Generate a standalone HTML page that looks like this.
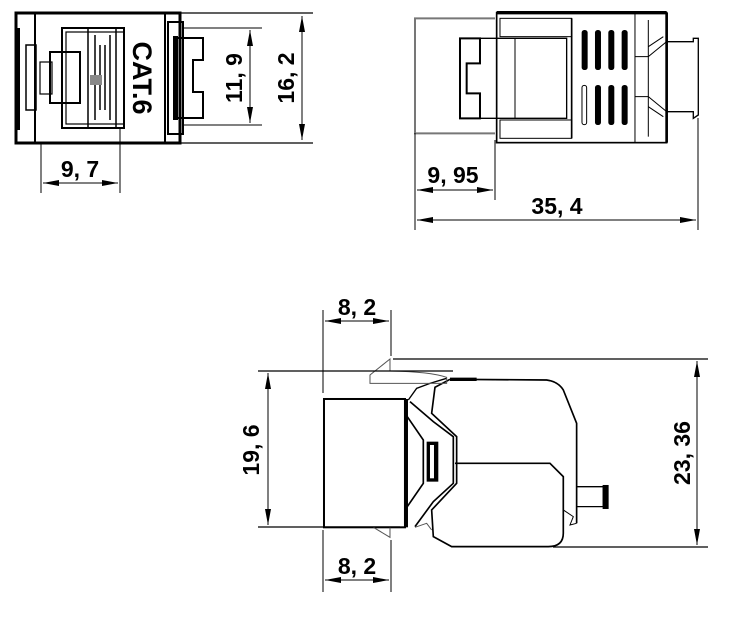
<!DOCTYPE html>
<html><head><meta charset="utf-8"><style>
html,body{margin:0;padding:0;background:#fff;}
svg{display:block;}
text{font-family:"Liberation Sans",sans-serif;font-weight:bold;fill:#000;}
</style></head><body>
<svg width="732" height="620" viewBox="0 0 732 620" xmlns="http://www.w3.org/2000/svg">
<defs>
<marker id="a" viewBox="0 0 16 6" refX="16" refY="3" markerWidth="16" markerHeight="6" markerUnits="userSpaceOnUse" orient="auto-start-reverse">
<path d="M0,0 L16,3 L0,6 Z" fill="#000"/></marker>
</defs>
<g fill="none" stroke="#000">
<!-- FRONT VIEW -->
<rect x="16" y="13" width="164" height="130" stroke-width="3"/>
<rect x="15" y="28" width="5" height="102" fill="#000" stroke="none"/>
<line x1="35" y1="14" x2="35" y2="142" stroke-width="2"/>
<rect x="26" y="45" width="10" height="65" stroke-width="1.5"/>
<rect x="62" y="28" width="62" height="100" stroke-width="2"/>
<rect x="66" y="32" width="58" height="92" stroke-width="1.2"/>
<rect x="50" y="52" width="30" height="51" stroke-width="2"/>
<rect x="40" y="62" width="12" height="32" stroke-width="1.2"/>
<g stroke-width="1.5">
<line x1="88" y1="28" x2="88" y2="128"/><line x1="95" y1="35" x2="95" y2="120"/>
<line x1="100" y1="45" x2="100" y2="110"/><line x1="105" y1="45" x2="105" y2="110"/>
<line x1="110" y1="35" x2="110" y2="120"/><line x1="116" y1="28" x2="116" y2="128"/>
</g>
<rect x="90" y="75" width="12" height="10" fill="#888" stroke="none"/>
<line x1="165" y1="14" x2="165" y2="142" stroke-width="2"/>
<rect x="168" y="22" width="15" height="112" stroke-width="2"/>
<rect x="173" y="36" width="5" height="84" fill="#000" stroke="none"/>
<path d="M177,38 L203,38 L203,60 L193,60 L193,92 L203,92 L203,118 L177,118" stroke-width="2"/>
<!-- front dims -->
<line x1="180" y1="13" x2="313" y2="13" stroke-width="1.2"/>
<line x1="180" y1="143" x2="313" y2="143" stroke-width="1.2"/>
<line x1="183" y1="28" x2="262" y2="28" stroke-width="1"/>
<line x1="183" y1="125" x2="262" y2="125" stroke-width="1"/>
<line x1="302" y1="16" x2="302" y2="140" stroke-width="1" marker-start="url(#a)" marker-end="url(#a)"/>
<line x1="250" y1="30" x2="250" y2="123" stroke-width="1" marker-start="url(#a)" marker-end="url(#a)"/>
<line x1="41" y1="143" x2="41" y2="193" stroke-width="1"/>
<line x1="120" y1="128" x2="120" y2="193" stroke-width="1"/>
<line x1="43" y1="183" x2="118" y2="183" stroke-width="1" marker-start="url(#a)" marker-end="url(#a)"/>

<!-- SIDE VIEW -->
<g transform="translate(400,0) scale(0.3333)" stroke-width="4">
<path d="M285,55 L45,55 L45,400 L285,400" stroke="#777" stroke-width="6"/>
<rect x="290" y="38" width="510" height="390" stroke-width="5"/>
<line x1="290" y1="38" x2="800" y2="38" stroke-width="10"/>
<line x1="800" y1="38" x2="800" y2="428" stroke-width="8"/>
<path d="M180,115 L500,115 L500,355 L180,355 Z" stroke-width="4"/>
<path d="M180,115 L240,115 L240,190 L200,190 L200,280 L240,280 L240,355 L180,355 Z" stroke-width="6"/>
<line x1="345" y1="115" x2="345" y2="355" stroke-width="3"/>
<rect x="300" y="55" width="215" height="55" stroke-width="3"/>
<rect x="300" y="360" width="215" height="55" stroke-width="3"/>
<line x1="515" y1="55" x2="515" y2="415" stroke-width="5"/>
<line x1="705" y1="38" x2="705" y2="428" stroke-width="3"/>
<line x1="745" y1="60" x2="745" y2="410" stroke-width="3"/>
<path d="M705,170 L745,170 L800,125 M705,290 L745,290 L800,335 M745,140 L790,110 M745,320 L790,350" stroke-width="3"/>
<g fill="#000" stroke="none">
<rect x="545" y="90" width="18" height="120" rx="8"/><rect x="585" y="90" width="18" height="120" rx="8"/>
<rect x="625" y="90" width="18" height="120" rx="8"/><rect x="665" y="90" width="18" height="120" rx="8"/>
<rect x="585" y="255" width="18" height="120" rx="8"/>
<rect x="625" y="255" width="18" height="120" rx="8"/><rect x="665" y="255" width="18" height="120" rx="8"/>
</g>
<rect x="546" y="256" width="14" height="118" rx="7" stroke-width="3"/>
<path d="M800,125 L880,125 L880,115 L895,115 L895,345 L880,355 L880,335 L800,335" stroke-width="4"/>
</g>
<line x1="415" y1="133" x2="415" y2="230" stroke-width="1"/>
<line x1="495" y1="140" x2="495" y2="200" stroke-width="1"/>
<line x1="698" y1="118" x2="698" y2="230" stroke-width="1"/>
<line x1="417" y1="190" x2="493" y2="190" stroke-width="1" marker-start="url(#a)" marker-end="url(#a)"/>
<line x1="417" y1="220" x2="696" y2="220" stroke-width="1" marker-start="url(#a)" marker-end="url(#a)"/>

<!-- BOTTOM VIEW -->
<g transform="translate(230,290) scale(0.3333)" stroke-width="4">
<rect x="282" y="327" width="243" height="385" stroke-width="6"/>
<rect x="522" y="327" width="12" height="385" fill="#000" stroke="none"/>
<path d="M525,370 L580,450 L580,580 L525,660" stroke-width="5"/>
<path d="M535,330 L560,295 L600,280 L650,265" stroke-width="4"/>
<path d="M540,335 L610,395 L670,440 L670,580 L610,635 L555,710" stroke-width="5"/>
<rect x="590" y="455" width="35" height="120" fill="#000" stroke="none"/>
<rect x="600" y="465" width="12" height="100" fill="#fff" stroke="none"/>
<path d="M660,268 L615,292 L605,370 L680,440 L680,580 L605,660 L610,740 L665,770 L955,770 Q1000,770 1000,730 L1000,560 L960,520 L675,520" stroke-width="5"/>
<path d="M660,268 L950,270 Q985,275 1000,300 L1040,400 L1040,700" stroke-width="5"/>
<line x1="660" y1="268" x2="740" y2="268" stroke-width="10"/>
<path d="M1040,590 L1120,590 L1120,650 L1040,650" stroke-width="4"/>
<rect x="1118" y="585" width="18" height="72" fill="#000" stroke="none"/>
<path d="M1000,660 L1030,680 L1020,705 L1040,700" stroke-width="3"/>
<path d="M480,207 L420,255 L420,280 L650,280 L650,262 Q600,245 480,243 Z" stroke-width="3" stroke="#555"/>
<path d="M430,712 L480,742 L480,712" stroke-width="3" stroke="#555"/>
<path d="M555,712 L590,700 L605,720" stroke-width="3" stroke="#555"/>
</g>
<line x1="323" y1="310" x2="323" y2="393" stroke-width="1"/>
<line x1="391" y1="310" x2="391" y2="356" stroke-width="1"/>
<line x1="325" y1="321" x2="389" y2="321" stroke-width="1" marker-start="url(#a)" marker-end="url(#a)"/>
<line x1="323" y1="530" x2="323" y2="592" stroke-width="1"/>
<line x1="391" y1="540" x2="391" y2="592" stroke-width="1"/>
<line x1="325" y1="580" x2="389" y2="580" stroke-width="1" marker-start="url(#a)" marker-end="url(#a)"/>
<line x1="393" y1="359" x2="708" y2="359" stroke-width="1.2"/>
<line x1="553" y1="547" x2="708" y2="547" stroke-width="1.2"/>
<line x1="258" y1="371" x2="453" y2="371" stroke-width="1.2"/>
<line x1="258" y1="527" x2="400" y2="527" stroke-width="1.2"/>
<line x1="268" y1="373" x2="268" y2="525" stroke-width="1" marker-start="url(#a)" marker-end="url(#a)"/>
<line x1="697" y1="361" x2="697" y2="545" stroke-width="1" marker-start="url(#a)" marker-end="url(#a)"/>
</g>
<text x="80" y="177" font-size="23" text-anchor="middle">9, 7</text>
<text transform="translate(294,78) rotate(-90)" font-size="23" text-anchor="middle">16, 2</text>
<text transform="translate(242,78) rotate(-90)" font-size="23" text-anchor="middle">11, 9</text>
<text transform="translate(133,78) rotate(90)" font-size="27" text-anchor="middle" fill="#222">CAT.6</text>
<text x="453" y="183" font-size="23" text-anchor="middle">9, 95</text>
<text x="557" y="214" font-size="23" text-anchor="middle">35, 4</text>
<text x="357" y="315" font-size="23" text-anchor="middle">8, 2</text>
<text x="357" y="574" font-size="23" text-anchor="middle">8, 2</text>
<text transform="translate(259,450) rotate(-90)" font-size="23" text-anchor="middle">19, 6</text>
<text transform="translate(690,453) rotate(-90)" font-size="23" text-anchor="middle">23, 36</text>
</svg>
</body></html>
